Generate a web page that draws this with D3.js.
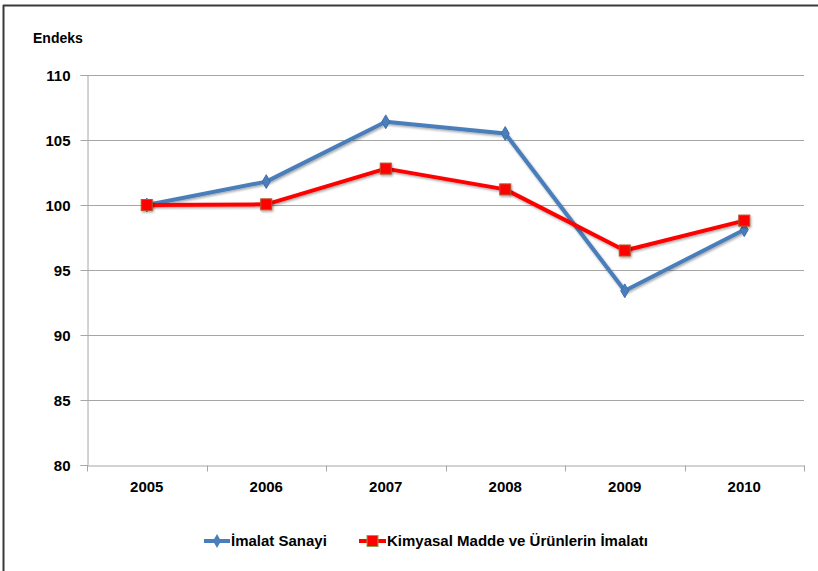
<!DOCTYPE html>
<html><head><meta charset="utf-8">
<script src="https://cdn.jsdelivr.net/npm/d3@7"></script>
<style>
html,body{margin:0;padding:0;background:#fff;}
svg text{font-family:"Liberation Sans",Arial,sans-serif;font-weight:bold;fill:#000;}
</style></head>
<body>
<svg id="chart" width="818" height="571"></svg>
<script>
const years = ["2005","2006","2007","2008","2009","2010"];
const imalatSanayi = [100, 101.8, 106.4, 105.5, 93.4, 98.1];
const kimyasal = [100, 100.05, 102.8, 101.2, 96.5, 98.8];
const yTicks = [80, 85, 90, 95, 100, 105, 110];
const seriesNames = ["İmalat Sanayi", "Kimyasal Madde ve Ürünlerin İmalatı"];
const yTitle = "Endeks";

(function(){
const svg = d3.select("#chart");
const pL = 87, pR = 804, pT = 75, pB = 465;

// outer frame
svg.append("line").attr("x1",3.5).attr("x2",3.5).attr("y1",5).attr("y2",571).attr("stroke","#3a3a3a").attr("stroke-width",2);
svg.append("line").attr("x1",3).attr("x2",818).attr("y1",5.5).attr("y2",5.5).attr("stroke","#3a3a3a").attr("stroke-width",2);

const defs = svg.append("defs");
const f = defs.append("filter").attr("id","sh").attr("x","-50%").attr("y","-50%").attr("width","200%").attr("height","200%");
f.append("feDropShadow").attr("dx",1).attr("dy",1.5).attr("stdDeviation",1.2).attr("flood-color","#000").attr("flood-opacity",0.35);

const x = d3.scaleBand().domain(years).range([pL, pR]);
const y = d3.scaleLinear().domain([80,110]).range([pB, pT]);

// gridlines
svg.append("g").selectAll("line").data(yTicks.filter(d=>d>80)).join("line")
  .attr("x1",pL).attr("x2",pR).attr("y1",d=>y(d)+0.5).attr("y2",d=>y(d)+0.5)
  .attr("stroke","#a6a6a6").attr("stroke-width",1);

// y axis
const yAxis = svg.append("g").attr("transform",`translate(${pL+0.5},0)`)
  .call(d3.axisLeft(y).tickValues(yTicks).tickSize(7).tickPadding(10).tickFormat(d3.format("d")));
yAxis.select(".domain").attr("stroke","#a6a6a6");
yAxis.selectAll(".tick line").attr("stroke","#a6a6a6");
yAxis.selectAll("text").style("font-size","15px").attr("dy","0.35em");

// x axis
const xAxis = svg.append("g").attr("transform",`translate(0,${pB+0.5})`)
  .call(d3.axisBottom(x).tickSize(0).tickPadding(16));
xAxis.select(".domain").attr("stroke","#a6a6a6");
xAxis.selectAll("text").style("font-size","15px");
const bounds = years.map(d=>x(d)).concat([x(years[years.length-1])+x.bandwidth()]);
xAxis.selectAll(".bt").data(bounds).join("line").attr("class","bt")
  .attr("x1",d=>Math.round(d)+0.5).attr("x2",d=>Math.round(d)+0.5).attr("y1",0).attr("y2",6).attr("stroke","#a6a6a6");

svg.append("text").attr("x",33).attr("y",43).style("font-size","14px").text(yTitle);

const cx = d => x(d) + x.bandwidth()/2;
const line = d3.line().x((d,i)=>cx(years[i])).y(d=>y(d));

// blue series
svg.append("path").datum(imalatSanayi).attr("d",line).attr("fill","none")
  .attr("stroke","#4a7ebb").attr("stroke-width",4).attr("stroke-linejoin","round").attr("filter","url(#sh)");
svg.append("g").selectAll("path").data(imalatSanayi).join("path")
  .attr("d",d3.symbol(d3.symbolDiamond,55)())
  .attr("transform",(d,i)=>`translate(${cx(years[i])},${y(d)})`)
  .attr("fill","#4a7ebb").attr("stroke","#3f6fa8").attr("stroke-width",1);

// red series
svg.append("path").datum(kimyasal).attr("d",line).attr("fill","none")
  .attr("stroke","#ff0000").attr("stroke-width",4).attr("stroke-linejoin","round").attr("filter","url(#sh)");
svg.append("g").selectAll("rect").data(kimyasal).join("rect")
  .attr("x",(d,i)=>cx(years[i])-5.5).attr("y",d=>y(d)-5.5).attr("width",11).attr("height",11)
  .attr("fill","#ff0000").attr("stroke","#b5532a").attr("stroke-width",1).attr("filter","url(#sh)");

// legend
const ly = 541;
const lg = svg.append("g");
lg.append("line").attr("x1",204).attr("x2",230).attr("y1",ly).attr("y2",ly).attr("stroke","#4a7ebb").attr("stroke-width",4);
lg.append("path").attr("d",d3.symbol(d3.symbolDiamond,55)()).attr("transform",`translate(217,${ly})`).attr("fill","#4a7ebb");
lg.append("text").attr("x",231).attr("y",ly).attr("dy","0.35em").style("font-size","15px").text(seriesNames[0]);
lg.append("line").attr("x1",359).attr("x2",386).attr("y1",ly).attr("y2",ly).attr("stroke","#ff0000").attr("stroke-width",4);
lg.append("rect").attr("x",367).attr("y",ly-5.5).attr("width",11).attr("height",11).attr("fill","#ff0000").attr("stroke","#8ea04a").attr("stroke-width",1);
lg.append("text").attr("x",387).attr("y",ly).attr("dy","0.35em").style("font-size","15px").text(seriesNames[1]);
})();
</script>
</body></html>
